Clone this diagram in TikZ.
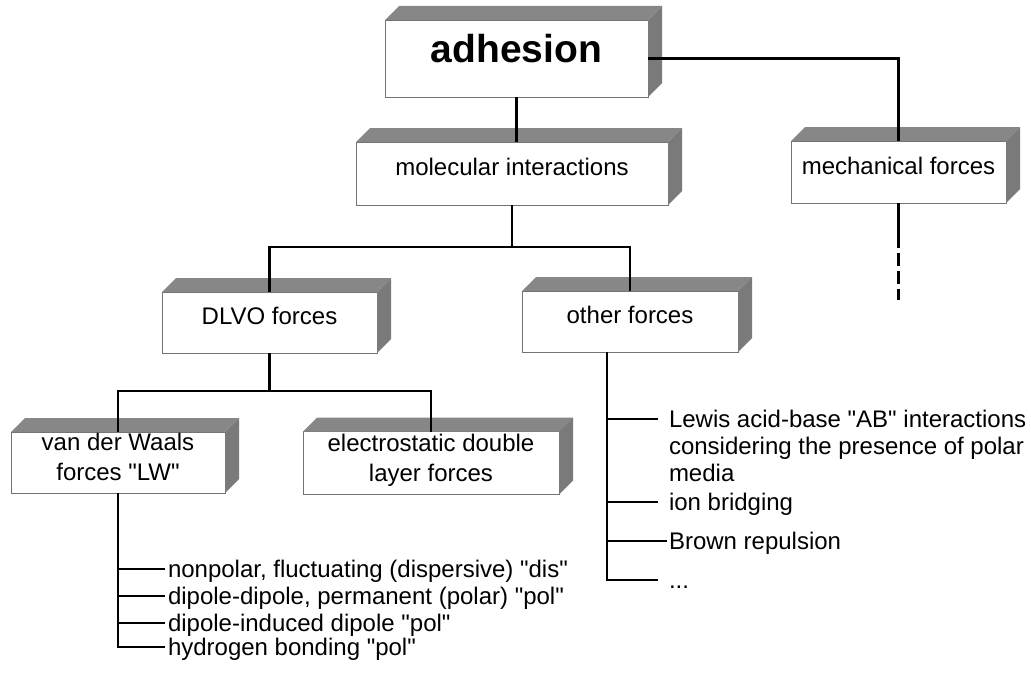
\documentclass[tikz,border=0pt]{standalone}
\usepackage{fontspec}
\setmainfont{Liberation Sans}
\usetikzlibrary{calc}
\newcommand\qd{\textquotedbl}
\tikzset{
  box/.style={draw=black!55, line width=0.6pt, fill=white, inner sep=0pt, outer sep=0pt,
    font=\fontsize{24}{30}\selectfont, text height=14pt, text depth=10pt},
  twoline/.style={text height=10pt, text depth=34pt},
  topface/.style={fill=black!47},
  sideface/.style={fill=black!52},
  conn/.style={line width=2.6pt, black},
  lst/.style={line width=1.2pt, black},
  itemtxt/.style={anchor=base west, inner sep=0pt, outer sep=0pt, font=\fontsize{24}{27}\selectfont}
}
\newcommand\boxfaces[1]{%
  \fill[topface] (#1.north west) -- ++(14pt,14pt) -- ($(#1.north east)+(14pt,14pt)$) -- (#1.north east) -- cycle;
  \fill[sideface] (#1.north east) -- ++(14pt,14pt) -- ($(#1.south east)+(14pt,14pt)$) -- (#1.south east) -- cycle;
}
\begin{document}
\begin{tikzpicture}[x=1pt,y=-1pt]
\useasboundingbox[fill=white] (0,0) rectangle (1031,677);

% boxes
\node[box, minimum width=263pt, minimum height=77pt, text height=25pt, text depth=16pt,
      font=\fontsize{39}{45}\selectfont\bfseries] (adh) at (516.5,58.5) {adhesion};
\node[box, minimum width=312pt, minimum height=63pt] (mol) at (512,173.5) {molecular interactions};
\node[box, minimum width=215pt, minimum height=62pt] (mech) at (898.5,172) {mechanical forces};
\node[box, minimum width=215pt, minimum height=61pt] (dlvo) at (269.5,322.5) {DLVO forces};
\node[box, minimum width=216pt, minimum height=61pt] (oth) at (630,321.5) {other forces};
\node[box, twoline, minimum width=214pt, minimum height=61pt] (vdw) at (118,462.5)
  {\parbox[t]{204pt}{\centering van der Waals\\forces \qd LW\qd}};
\node[box, twoline, minimum width=256pt, minimum height=63pt] (elec) at (431,463)
  {\parbox[t]{246pt}{\centering electrostatic double\\layer forces}};

\boxfaces{adh}
\boxfaces{mol}
\boxfaces{mech}
\boxfaces{dlvo}
\boxfaces{oth}
\boxfaces{vdw}
\boxfaces{elec}

% tree connectors
\draw[conn] (adh.south) -- (adh.south |- mol.north);
\draw[conn] (adh.east) -| (mech.north);
\coordinate (mechA) at ([yshift=-45pt]mech.south);
\coordinate (mechB) at ([yshift=-97pt]mech.south);
\draw[conn] (mech.south) -- (mechA);
\draw[conn, dash pattern=on 13pt off 5pt, dash phase=13pt] (mechA) -- (mechB);

\coordinate (molj) at ([yshift=-42pt]mol.south);
\draw[conn] (mol.south) -- (molj) -| (dlvo.north);
\draw[conn] (molj) -| (oth.north);

\coordinate (dj) at ([yshift=-38pt]dlvo.south);
\draw[conn] (dlvo.south) -- (dj) -| (vdw.north);
\draw[conn] (dj) -| (elec.north);

% van der Waals list
\coordinate (v1) at (165,569);
\coordinate (v2) at (165,596);
\coordinate (v3) at (165,623);
\coordinate (v4) at (165,647);
\draw[lst] (vdw.south) |- (v4);
\draw[lst] (vdw.south |- v1) -- (v1);
\draw[lst] (vdw.south |- v2) -- (v2);
\draw[lst] (vdw.south |- v3) -- (v3);
\node[itemtxt] (t1) at ([xshift=3pt,yshift=-8pt]v1) {nonpolar, fluctuating (dispersive) \qd dis\qd};
\node[itemtxt] (t2) at ([xshift=3pt,yshift=-8pt]v2) {dipole-dipole, permanent (polar) \qd pol\qd};
\node[itemtxt] (t3) at ([xshift=3pt,yshift=-8pt]v3) {dipole-induced dipole \qd pol\qd};
\node[itemtxt] (t4) at ([xshift=3pt,yshift=-8pt]v4) {hydrogen bonding \qd pol\qd};

% other forces list
\coordinate (otop) at ([xshift=-23pt]oth.south);
\coordinate (o1) at (658,419);
\coordinate (o2) at (658,502);
\coordinate (o3) at (667,541);
\coordinate (o4) at (658,580);
\draw[lst] (otop) |- (o4);
\draw[lst] (otop |- o1) -- (o1);
\draw[lst] (otop |- o2) -- (o2);
\draw[lst] (otop |- o3) -- (o3);
\node[itemtxt] (s1) at ([xshift=11pt,yshift=-8pt]o1)
  {\parbox[t]{362pt}{\raggedright Lewis acid-base \qd AB\qd{} interactions\\considering the presence of polar\\media}};
\node[itemtxt] (s2) at ([xshift=11pt,yshift=-8pt]o2) {ion bridging};
\node[itemtxt] (s3) at ([xshift=2pt,yshift=-8pt]o3) {Brown repulsion};
\node[itemtxt] (s4) at ([xshift=11pt,yshift=-8pt]o4) {...};
\end{tikzpicture}
\end{document}
